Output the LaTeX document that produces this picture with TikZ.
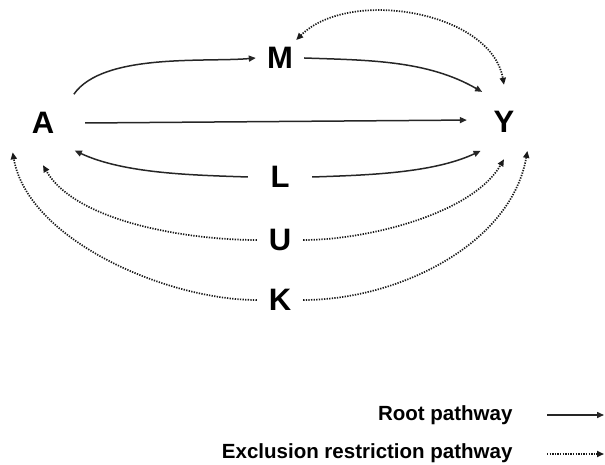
\documentclass[tikz,border=0pt]{standalone}
\usepackage{fontspec}
\setmainfont{Liberation Sans}
\usetikzlibrary{arrows.meta}
\tikzset{
	var/.style={circle, inner sep=0pt, font=\fontsize{31}{31}\selectfont\bfseries},
	root/.style={line width=1.5pt, color=black!85, -{Triangle[length=7pt,width=6pt]}},
	excl/.style={line width=1.7pt, color=black!90, dash pattern=on 1.3pt off 1.3pt, -{Triangle[length=7pt,width=6pt]}},
	legend/.style={anchor=base east, font=\fontsize{20.5}{20.5}\selectfont\bfseries}
}

\begin{document}
\begin{tikzpicture}[x=1pt, y=1pt]
			%%%%% START %%%%%
			\useasboundingbox (0, 0) rectangle (605, 464);
			
			\node[var, minimum size=84pt] (A) at (43, 341) {A};
			\node[var, minimum size=48pt] (M) at (280, 406) {M};
			\node[var, minimum size=74pt] (Y) at (504, 342) {Y};
			\node[var, minimum size=64pt] (L) at (280, 287) {L};
			\node[var, minimum size=46pt] (U) at (280, 224) {U};
			\node[var, minimum size=46pt] (K) at (280, 164) {K};
			
			\draw[root] (A.43) to[out=55, in=185, looseness=0.7] (M.west);
			\draw[root] (M.east) to[out=-2, in=150, looseness=0.9] (Y.126);
			\draw[root] (A.east) -- (Y.177);
			
			\draw[root] (L.west) to[out=178, in=-25, looseness=0.8] (A.-41);
			\draw[root] (L.east) to[out=2, in=205, looseness=0.8] (Y.231);
			
			\draw[excl] (U.west) to[out=180, in=-60, looseness=0.75] (A.-90);
			\draw[excl] (U.east) to[out=0, in=240, looseness=0.75] (Y.270);
			\draw[excl] (K.west) to[out=180, in=-80, looseness=0.8] (A.224);
			\draw[excl] (K.east) to[out=0, in=260, looseness=0.9] (Y.309);
			
			\draw[excl, {Triangle[length=7pt,width=6pt]}-{Triangle[length=7pt,width=6pt]}] (M.48) to[out=45, in=100, looseness=0.9] (Y.90);
			
			% legend
			\node[legend] (rootlab) at (516, 44) {Root pathway};
			\node[legend] (excllab) at (516, 6) {Exclusion restriction pathway};
			\coordinate (rootS) at (547, 49);
			\coordinate (rootE) at (604, 49);
			\coordinate (exclS) at (547, 10);
			\coordinate (exclE) at (604, 10);
			\draw[root] (rootS) -- (rootE);
			\draw[excl] (exclS) -- (exclE);
			
			%%%%% END %%%%%
\end{tikzpicture}
\end{document}
